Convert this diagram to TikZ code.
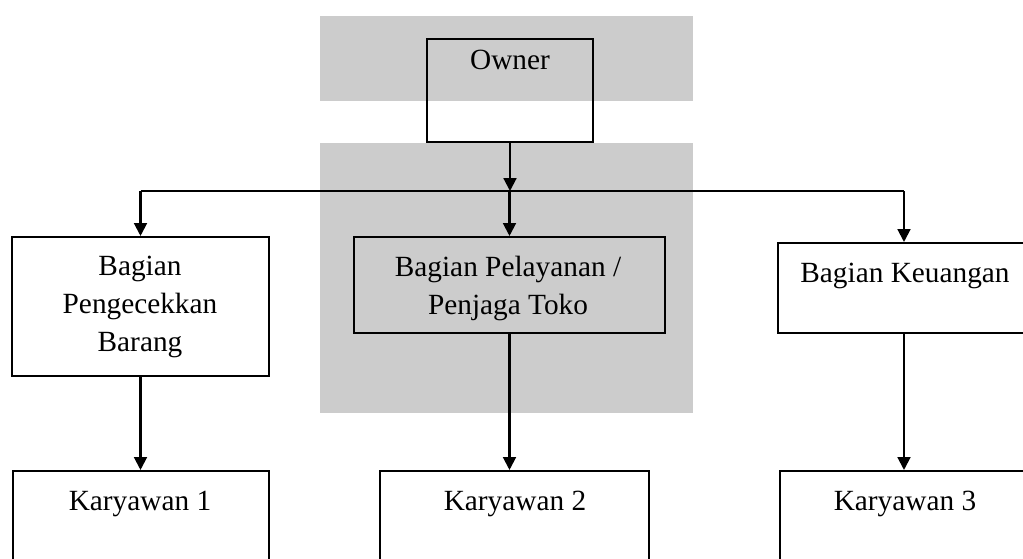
\documentclass[tikz,border=0pt]{standalone}
\usepackage{fontspec}
\setmainfont{Liberation Serif}
\usetikzlibrary{arrows.meta,fit}
\begin{document}
\begin{tikzpicture}[x=0.012cm, y=-0.012cm, line width=0.7pt,
  box/.style={draw, rectangle, inner sep=0pt},
  lbl/.style={inner sep=0pt, align=center, font=\fontsize{10}{12.9}\selectfont},
  arr/.style={-{Triangle[length=4.4pt,width=4.4pt]}}]
\useasboundingbox (0,0) rectangle (1023,558);
\clip (0,0) rectangle (1023,558);
% Grey patches behind the middle column
\fill[black!20] (320,16) rectangle (693,101);
\fill[black!20] (320,143) rectangle (693,413);

% Boxes
\node[box, fit={(427,39) (593,142)}] (own) {};
\node[box, fit={(12,237) (269,376)}] (pg) {};
\node[box, fit={(354,237) (665,333)}] (pel) {};
\node[box, fit={(778,243) (1030,333)}] (ku) {};
\node[box, fit={(13,471) (269,600)}] (k1) {};
\node[box, fit={(380,471) (649,600)}] (k2) {};
\node[box, fit={(780,471) (1030,600)}] (k3) {};

% Texts
\node[lbl, anchor=base] (ownT) at (510,69) {Owner};
\node[lbl, anchor=north] (pgT) at (140,255) {Bagian\\Pengecekkan\\Barang};
\node[lbl, anchor=north] (pelT) at (508,255) {Bagian Pelayanan /\\Penjaga Toko};
\node[lbl, anchor=base] (kuT) at (905,282) {Bagian Keuangan};
\node[lbl, anchor=base] (k1T) at (140,510) {Karyawan 1};
\node[lbl, anchor=base] (k2T) at (515,510) {Karyawan 2};
\node[lbl, anchor=base] (k3T) at (905,510) {Karyawan 3};

% Connectors
\coordinate (bus) at (510,191);
\draw[arr] (own.south) -- (own.south |- bus);
\draw (pg.north |- bus) -- (ku.north |- bus);
\draw[arr] (pg.north |- bus) -- (pg.north);
\draw[arr] (pel.north |- bus) -- (pel.north);
\draw[arr] (ku.north |- bus) -- (ku.north);
\draw[arr] (pg.south) -- (pg.south |- k1.north);
\draw[arr] (pel.south) -- (pel.south |- k2.north);
\draw[arr] (ku.south) -- (ku.south |- k3.north);
\end{tikzpicture}
\end{document}
